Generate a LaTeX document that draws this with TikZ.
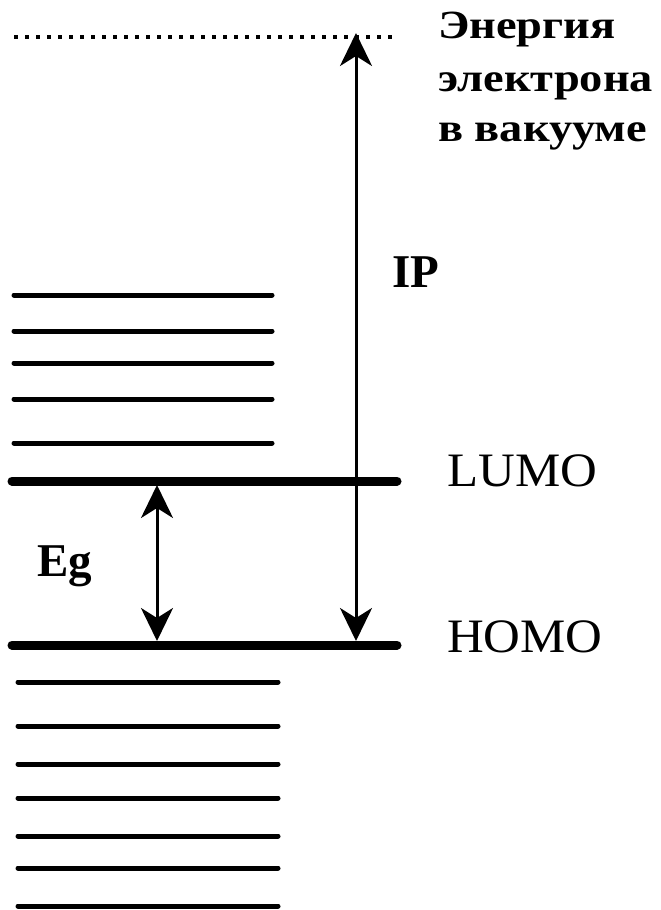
\documentclass[tikz,border=0pt]{standalone}
\usepackage{fontspec}
\setmainfont{Liberation Serif}
\newfontfamily\rufont[FakeStretch=1.16]{Liberation Serif}
\newfontfamily\widefont[FakeStretch=1.06]{Liberation Serif}
\usetikzlibrary{arrows.meta}
\begin{document}
\begin{tikzpicture}[x=1pt,y=-1pt,
  level/.style={line width=5pt,line cap=round},
  mainlevel/.style={line width=9pt,line cap=round},
  vac/.style={line width=3.5pt,dash pattern=on 3.5pt off 7.5pt},
  arr/.style={line width=3pt,{Stealth[length=33pt,width=32pt,inset=10pt]}-{Stealth[length=33pt,width=32pt,inset=10pt]}},
  ru/.style={font=\rufont\fontsize{40}{51}\selectfont\bfseries,inner sep=0pt,anchor=base west},
  big/.style={font=\widefont\fontsize{48}{56}\selectfont,inner sep=0pt,anchor=base west},
  bigb/.style={font=\fontsize{47}{56}\selectfont\bfseries,inner sep=0pt,anchor=base west}
]
\useasboundingbox (0,0) rectangle (661,910);
% vacuum level
\draw[vac] (14,37) -- (397,37);
% upper levels
\foreach \yy in {295,331,363,399,443} \draw[level] (14,\yy) -- (272,\yy);
% LUMO and HOMO
\draw[mainlevel] (12,481) -- (397,481);
\draw[mainlevel] (12,645) -- (397,645);
% lower levels
\foreach \yy in {682,726,764,798,836,868,906} \draw[level] (18,\yy) -- (278,\yy);
% arrow points
\coordinate (ipTop) at (356,33);
\coordinate (ipBot) at (356,641);
\coordinate (egTop) at (157,485);
\coordinate (egBot) at (157,641);
\draw[arr] (ipBot) -- (ipTop);
\draw[arr] (egBot) -- (egTop);
% labels
\node[ru] (vac1) at (438,38) {Энергия};
\node[ru] (vac2) at (438,91) {электрона};
\node[ru] (vac3) at (438,141) {в вакууме};
\node[bigb] (ip) at (392,287) {IP};
\node[bigb] (eg) at (37,576) {Eg};
\node[big] (lumo) at (447,486) {LUMO};
\node[big] (homo) at (447,652) {HOMO};
\end{tikzpicture}
\end{document}
